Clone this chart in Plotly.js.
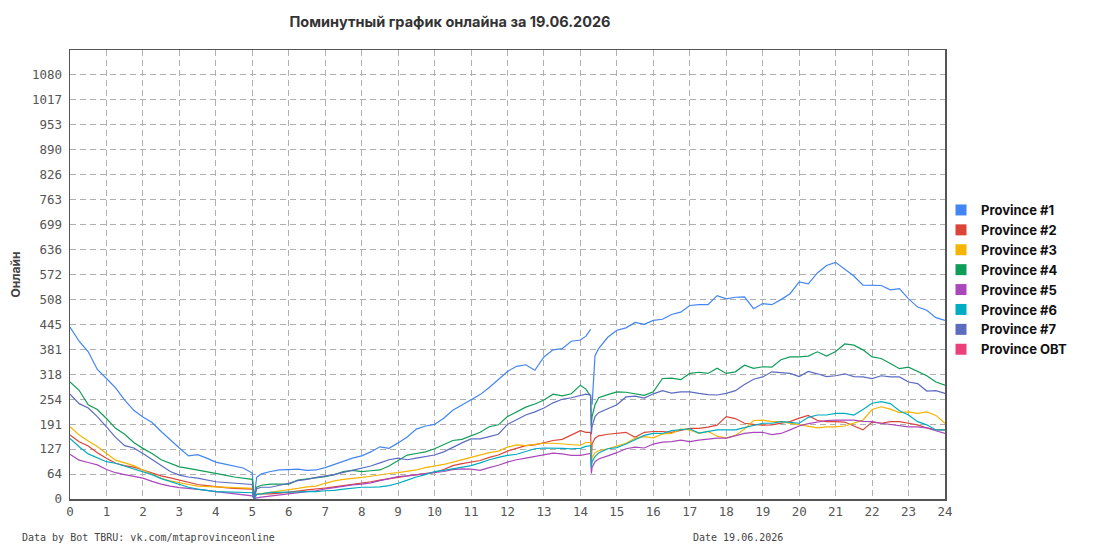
<!DOCTYPE html>
<html>
<head>
<meta charset="utf-8">
<script src="https://cdn.plot.ly/plotly-3.0.1.min.js"></script>
<style>html,body{margin:0;padding:0;background:#fff;}#chart{width:1095px;height:550px;}</style>
</head>
<body>
<div id="chart"></div>
<script>
// Time in hours
const hours = [0,0.25,0.5,0.75,1,1.25,1.5,1.75,2,2.25,2.5,2.75,3,3.25,3.5,3.75,4,4.25,4.5,4.75,5,5.05,5.12,
  5.25,5.5,5.75,6,6.25,6.5,6.75,7,7.25,7.5,7.75,8,8.25,8.5,8.75,9,9.25,9.5,9.75,10,10.25,10.5,10.75,11,11.25,11.5,11.75,12,12.25,12.5,12.75,13,13.25,13.5,13.75,14,
  14.15,14.28,14.3,14.32,14.4,
  14.5,14.75,15,15.25,15.5,15.75,16,16.25,16.5,16.75,17,17.25,17.5,17.75,18,18.25,18.5,18.75,19,19.25,19.5,19.75,20,20.25,20.5,20.75,21,21.25,21.5,21.75,22,22.25,22.5,22.75,23,23.25,23.5,23.75,24];

const province1 = [438,402,375,330,307,283,252,226,209,195,172,150,130,110,113,104,94,89,84,79,66, 2,55,
  64,70,74,75, 76,73,74,80, 88,96,104,110, 120,133,129,143, 158,178,186,190, 206,226,240,254, 266,284,305,325, 338,342,328,362, 380,383,402,405,
  415,432,null,240,365,
  383,412,430, 436,450,445,455, 458,470,476,493, 495,495,518,510, 514,515,485,498, 495,508,523,553, 548,576,595,603, 586,568,545,544, 544,533,536,510, 489,481,462,455];
const province2 = [163,146,135,118,104,91,85,81,74,66,59,54,48,42,37,34,31,29,27,26,25, 1,12,
  13,13,15,17, 20,23,25,28, 31,34,37,40, 44,48,51,55, 59,62,66,68, 75,85,90,94, 98,106,112,122, 130,136,138,143, 149,152,163,174,
  170,170,100,140,155,
  161,165,167, 170,157,170,172, 172,170,175,180, 180,183,188,210, 205,193,190,188, 189,193,197,206, 213,200,197,197, 196,186,176,196, 193,197,197,193, 189,181,176,176];
const province3 = [184,163,148,134,116,99,92,85,74,63,53,46,41,37,33,32,31,30,29,28,27, 1,12,
  14,17,20,23, 27,31,33,40, 46,50,52,55, 58,62,65,67, 70,74,80,84, 88,94,100,106, 113,118,122,132, 138,136,139,142, 142,140,138,137,
  144,144,85,105,118,
  123,128,136, 142,155,159,156, 166,167,178,176, 167,172,160,155, 162,178,200,201, 197,197,193,188, 184,181,184,184, 186,193,201,228, 235,229,220,222, 218,222,213,193];
const province4 = [298,277,240,228,205,180,165,144,129,116,100,90,82,78,74,70,65,61,56,53,50, 2,30,
  35,38,38,38, 48,51,55,57, 62,70,73,70, 72,74,84,97, 112,116,120,128, 139,149,152,161, 170,184,189,210, 222,234,242,252, 267,263,268,290,
  280,262,190,210,240,
  258,266,273, 272,268,264,273, 307,308,304,320, 323,320,333,320, 324,341,333,337, 336,355,362,362, 364,375,364,376, 395,392,380,362, 358,345,332,336, 324,314,298,290];
const province5 = [114,99,93,87,75,67,62,58,53,45,38,33,29,27,25,22,19,16,14,11,8, 0,3,
  5,8,11,13, 16,19,21,26, 29,33,36,38, 41,47,52,57, 59,62,65,68, 70,75,77,76, 73,80,86,94, 100,104,108,112, 117,115,111,111,
  114,116,65,80,95,
  102,110,118, 128,132,130,140, 145,146,150,146, 150,153,155,155, 161,167,170,170, 164,167,176,186, 192,196,200,201, 201,201,198,197, 193,190,186,184, 184,181,174,167];
const province6 = [154,133,115,104,95,91,84,77,70,62,52,44,37,30,25,22,19,18,17,16,16, 0,12,
  13,17,17,17, 18,19,19,21, 22,25,27,30, 30,31,34,40, 48,56,62,70, 73,77,81,85, 92,100,106,111, 114,122,128,130, 130,129,128,129,
  134,136,80,95,108,
  117,128,131, 140,152,162,167, 167,174,176,179, 168,172,176,176, 176,182,187,193, 193,197,195,193, 208,214,214,218, 218,214,228,244, 248,243,225,214, 197,189,176,176];
const province7 = [267,243,232,210,184,157,136,130,116,101,84,70,61,56,53,48,44,42,40,39,37, 2,26,
  30,30,35,40, 47,50,55,58, 62,68,73,78, 84,92,100,104, 100,104,108,112, 120,132,143,153, 153,159,165,190, 203,214,222,232, 245,254,258,264,
  267,265,165,185,210,
  220,230,240, 260,262,257,268, 276,270,273,273, 269,266,265,269, 276,292,305,311, 324,322,320,312, 325,319,312,314, 319,312,311,307, 314,311,311,298, 294,275,276,269];
const provinceOBT = [];

const seriesNames = ["Province #1","Province #2","Province #3","Province #4","Province #5","Province #6","Province #7","Province OBT"];
const seriesValues = [province1,province2,province3,province4,province5,province6,province7,provinceOBT];
const seriesColors = ["#4285F4","#DB4437","#F4B400","#0F9D58","#AB47BC","#00ACC1","#5C6BC0","#EC407A"];

const xTickLabels = ["0","1","2","3","4","5","6","7","8","9","10","11","12","13","14","15","16","17","18","19","20","21","22","23","24"];
const yTickLabels = ["0","64","127","191","254","318","381","445","508","572","636","699","763","826","890","953","1017","1080"];
const yMax = 1144;
const yDivisions = 18;

const traces = [];
seriesNames.forEach((name, i) => {
  traces.push({
    x: seriesValues[i].length ? hours : [], y: seriesValues[i],
    type: "scatter", mode: "lines", name: name,
    line: {color: seriesColors[i], width: 1.2},
    showlegend: false, legendgroup: name, hoverinfo: "skip"
  });
});
seriesNames.forEach((name, i) => {
  traces.push({
    x: [null], y: [null], type: "scatter", mode: "markers", name: name,
    marker: {symbol: "square", size: 11, color: seriesColors[i]},
    legendgroup: name, showlegend: true
  });
});

const yTickVals = yTickLabels.map((_, k) => k * yMax / yDivisions);
const xTickVals = xTickLabels.map(Number);

const tickFont = {family: "DejaVu Sans Mono", size: 12.5, color: "#555"};

const layout = {
  width: 1095, height: 550,
  margin: {l: 70, r: 150, t: 50, b: 51, pad: 0},
  paper_bgcolor: "#fff", plot_bgcolor: "#fff",
  title: {
    text: "Поминутный график онлайна за 19.06.2026",
    x: 450/1095, xanchor: "center", xref: "container",
    y: 1 - 22/550, yanchor: "middle", yref: "container",
    font: {family: "Inter", size: 14.5, weight: 700, color: "#333"}
  },
  xaxis: {
    range: [0, 24], tickvals: xTickVals, ticktext: xTickLabels,
    showgrid: true, gridcolor: "#b0b0b0", griddash: "6px,4px", gridwidth: 1,
    showline: true, linecolor: "#555", linewidth: 1.5, mirror: true,
    zeroline: false, ticks: "", tickfont: tickFont
  },
  yaxis: {
    range: [0, yMax], tickvals: yTickVals, ticktext: yTickLabels,
    showgrid: true, gridcolor: "#b0b0b0", griddash: "6px,4px", gridwidth: 1,
    showline: true, linecolor: "#555", linewidth: 1.5, mirror: true,
    zeroline: false, ticks: "", tickfont: tickFont, ticklabelstandoff: 4,
    title: {text: "Онлайн", standoff: 8, font: {family: "Inter", size: 12, weight: 700, color: "#444"}}
  },
  legend: {
    x: (941-70)/875, xanchor: "left", y: (499-195)/449, yanchor: "top",
    font: {family: "Inter", size: 13, weight: 700, color: "#111"},
    bgcolor: "rgba(0,0,0,0)", tracegroupgap: 0, itemclick: false
  },
  annotations: [
    {text: "Data by Bot TBRU: vk.com/mtaprovinceonline", xref: "paper", yref: "paper",
     x: (20-70)/875, y: (499-537)/449, xanchor: "left", yanchor: "middle", showarrow: false,
     font: {family: "DejaVu Sans Mono", size: 10, color: "#444"}},
    {text: "Date 19.06.2026", xref: "paper", yref: "paper",
     x: (691-70)/875, y: (499-537)/449, xanchor: "left", yanchor: "middle", showarrow: false,
     font: {family: "DejaVu Sans Mono", size: 10, color: "#444"}}
  ],
  showlegend: true
};

Plotly.newPlot("chart", traces, layout, {displayModeBar: false, staticPlot: true});
</script>
</body>
</html>
